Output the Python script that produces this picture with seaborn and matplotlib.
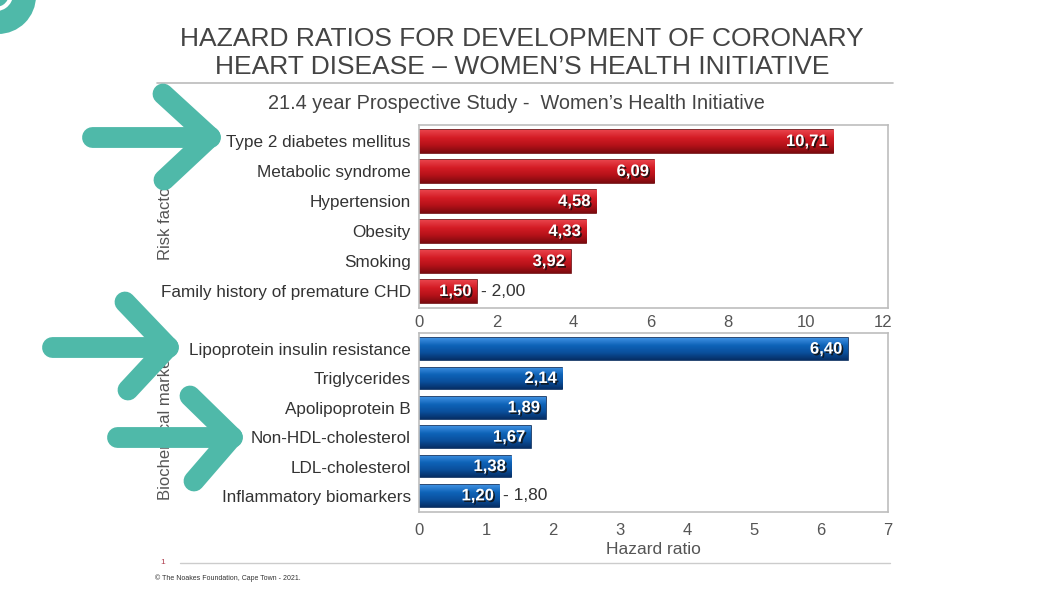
import matplotlib
matplotlib.use("Agg")
import matplotlib.pyplot as plt
import matplotlib.patheffects as pe
from matplotlib.lines import Line2D
from matplotlib.patches import Circle, Arc
from matplotlib.transforms import IdentityTransform
from matplotlib.colors import LinearSegmentedColormap
import numpy as np
import pandas as pd
import seaborn as sns

# data
risk_factors = ['Type 2 diabetes mellitus', 'Metabolic syndrome', 'Hypertension',
                'Obesity', 'Smoking', 'Family history of premature CHD']
risk_hr = [10.71, 6.09, 4.58, 4.33, 3.92, 1.50]
risk_text = ['10,71', '6,09', '4,58', '4,33', '3,92', '1,50']
risk_range = {'Family history of premature CHD': '- 2,00'}

markers = ['Lipoprotein insulin resistance', 'Triglycerides', 'Apolipoprotein B',
           'Non-HDL-cholesterol', 'LDL-cholesterol', 'Inflammatory biomarkers']
marker_hr = [6.40, 2.14, 1.89, 1.67, 1.38, 1.20]
marker_text = ['6,40', '2,14', '1,89', '1,67', '1,38', '1,20']
marker_range = {'Inflammatory biomarkers': '- 1,80'}

risk_ticks = [0, 2, 4, 6, 8, 10, 12]
marker_ticks = [0, 1, 2, 3, 4, 5, 6, 7]

sns.set_style('white')
plt.rcParams['font.family'] = ['Liberation Sans', 'DejaVu Sans']

W, H = 1052, 597
fig = plt.figure(figsize=(W / 100, H / 100), dpi=100)
fig.patch.set_facecolor('white')


def px(x, y):
    # pixel position -> figure fraction
    return x / W, 1 - y / H


ax1 = fig.add_axes([419 / W, 1 - 308 / H, 469 / W, 183 / H])
ax2 = fig.add_axes([419 / W, 1 - 512 / H, 469 / W, 179 / H])

red_grad = LinearSegmentedColormap.from_list('r', ['#e8424a', '#d41c25', '#b51219', '#7c0a0f'])
blue_grad = LinearSegmentedColormap.from_list('b', ['#3d8fe0', '#0e63b8', '#0a4f9c', '#062f66'])

panels = [
    (ax1, risk_factors, risk_hr, risk_text, risk_range, '#c9161f', '#6e080c', red_grad,
     risk_ticks, 12.13, 'Risk factors', '', 5),
    (ax2, markers, marker_hr, marker_text, marker_range, '#0b5cae', '#052a5c', blue_grad,
     marker_ticks, 7.0, 'Biochemical markers', 'Hazard ratio', 8),
]

grad = np.linspace(0, 1, 64).reshape(-1, 1)

for ax, names, vals, texts, ranges, col, edge, cmap, ticks, xmax, ylab, xlab, xpad in panels:
    df = pd.DataFrame({'name': names, 'hr': vals})
    sns.barplot(data=df, x='hr', y='name', ax=ax, color=col, orient='h',
                width=0.74, edgecolor=edge, linewidth=1.2, saturation=1)
    # shaded fill like the slide's bars
    for bar in ax.patches:
        x0, y0 = bar.get_x(), bar.get_y()
        w, h = bar.get_width(), bar.get_height()
        im = ax.imshow(grad, cmap=cmap, aspect='auto', interpolation='bilinear',
                       extent=(x0, x0 + w, y0 + h, y0), origin='upper', zorder=bar.get_zorder())
        im.set_clip_path(bar)
    for i, (v, t) in enumerate(zip(vals, texts)):
        ax.text(v - xmax * 0.012, i, t, ha='right', va='center', color='white',
                fontsize=12, fontweight='bold', zorder=5,
                path_effects=[pe.withSimplePatchShadow(offset=(1.2, -1.2),
                                                       shadow_rgbFace='#111111',
                                                       alpha=0.85)])
    for i, n in enumerate(names):
        if n in ranges:
            ax.text(vals[i] + xmax * 0.008, i, ranges[n], ha='left', va='center',
                    color='#333333', fontsize=12.5)
    ax.set_xlim(0, xmax)
    ax.set_ylim(5.55, -0.55)
    ax.set_xticks(ticks)
    ax.tick_params(axis='x', colors='#555555', labelsize=12, length=0, pad=xpad)
    ax.tick_params(axis='y', colors='#333333', labelsize=12.3, length=0, pad=6)
    for s in ax.spines.values():
        s.set_color('#bdbdbd')
        s.set_linewidth(1.2)
    ax.set_ylabel(ylab, fontsize=12, color='#555555')
    ax.yaxis.set_label_coords(-0.525, 0.5)
    ax.set_xlabel(xlab, fontsize=12.5, color='#555555', labelpad=3)

# titles
fig.text(*px(522, 53), 'HAZARD RATIOS FOR DEVELOPMENT OF CORONARY\nHEART DISEASE \u2013 WOMEN\u2019S HEALTH INITIATIVE',
         ha='center', va='center', fontsize=19, color='#444444', linespacing=1.2)
fig.add_artist(Line2D([157 / W, 893 / W], [1 - 83 / H] * 2, color='#bbbbbb', lw=1.2))
fig.text(*px(516, 104), '21.4 year Prospective Study -  Women\u2019s Health Initiative',
         ha='center', va='center', fontsize=14.3, color='#444444')

# footer
fig.add_artist(Line2D([180 / W, 890 / W], [1 - 563 / H] * 2, color='#cccccc', lw=1))
fig.text(*px(163, 563), '1', ha='center', va='center', fontsize=6, color='#b04050')
fig.text(*px(155, 578), '\u00a9 The Noakes Foundation, Cape Town - 2021.',
         ha='left', va='center', fontsize=5, color='#333333')

# teal hand-drawn arrows on the slide
teal = '#4fb9a9'
arrows = [((92, 137), (210, 137), (163, 94), (164, 180)),
          ((52, 347), (168, 347), (125, 302), (128, 390)),
          ((117, 437), (232, 437), (190, 396), (194, 481))]
for (x0, y0), (x1, y1), (ux, uy), (lx, ly) in arrows:
    for seg in [((x0, y0), (x1, y1)), ((ux, uy), (x1, y1)), ((lx, ly), (x1, y1))]:
        (a, b), (c, d) = seg
        fig.add_artist(Line2D([a / W, c / W], [1 - b / H, 1 - d / H], color=teal,
                              lw=15, solid_capstyle='round'))
# round teal badge in the corner (pixel coords)
fig.add_artist(Circle((-2, H + 4), 38, transform=IdentityTransform(), facecolor=teal,
                      edgecolor='none'))
fig.add_artist(Arc((-4, H + 6), 30, 30, theta1=250, theta2=360, transform=IdentityTransform(),
                   edgecolor='white', lw=3))

fig.savefig('out.png', dpi=100)
